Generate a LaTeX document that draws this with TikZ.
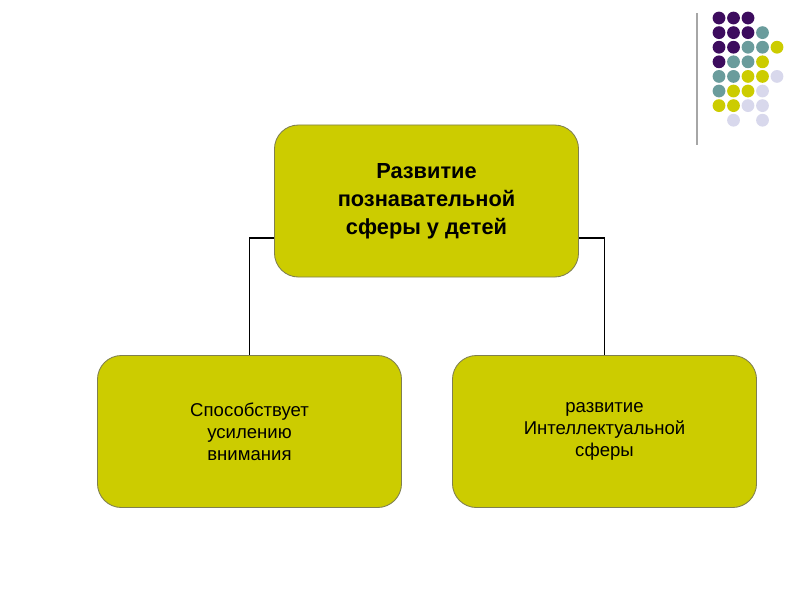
\documentclass[tikz,border=0pt]{standalone}
\usepackage{fontspec}
\setmainfont{Liberation Sans}
\usepackage{tikz}
\usetikzlibrary{positioning}

\definecolor{boxfill}{HTML}{CCCC00}
\definecolor{boxedge}{HTML}{7F7F50}
\definecolor{dotpurple}{HTML}{3D0C5E}
\definecolor{dotteal}{HTML}{6A9C9C}
\definecolor{dotyellow}{HTML}{CCCC00}
\definecolor{dotlilac}{HTML}{D8D8EC}

\begin{document}
\begin{tikzpicture}[x=0.025cm, y=-0.025cm,
        sferabox/.style={draw=boxedge, line width=0.6pt, fill=boxfill, rounded corners=0.6cm,
            minimum width=7.6cm, minimum height=3.8cm, align=center, inner sep=0pt},
        topfont/.style={font=\bfseries\fontsize{15.5}{20}\selectfont},
        subfont/.style={font=\fontsize{13.2}{15.8}\selectfont},
        link/.style={draw=black, line width=1.2pt}]
            \useasboundingbox (0,0) rectangle (800,600);
            % dots in the corner
            \draw[gray!70, line width=1.2pt] (697,13) -- (697,145);
            \foreach \c/\r in {0/0,1/0,2/0,0/1,1/1,2/1,0/2,1/2,0/3}
                \fill[dotpurple] ({719+14.5*\c},{18+14.6*\r}) circle[radius=0.16cm];
            \foreach \c/\r in {3/1,2/2,3/2,1/3,2/3,0/4,1/4,0/5}
                \fill[dotteal] ({719+14.5*\c},{18+14.6*\r}) circle[radius=0.16cm];
            \foreach \c/\r in {4/2,3/3,2/4,3/4,1/5,2/5,0/6,1/6}
                \fill[dotyellow] ({719+14.5*\c},{18+14.6*\r}) circle[radius=0.16cm];
            \foreach \c/\r in {4/4,3/5,2/6,3/6,1/7,3/7}
                \fill[dotlilac] ({719+14.5*\c},{18+14.6*\r}) circle[radius=0.16cm];
            % boxes
            \node[sferabox, topfont] (razvitie) at (426.5,201)
                {Развитие\\ познавательной\\ сферы у детей};
            \node[sferabox, subfont] (vnimanie) at (249.5,431.5)
                {Способствует\\ усилению\\ внимания};
            \node[sferabox, subfont] (intellekt) at (604.5,431.5)
                {развитие\\ Интеллектуальной\\ сферы};
            % connectors
            \draw[link] ([yshift=-0.925cm]razvitie.west) -| (vnimanie.north);
            \draw[link] ([yshift=-0.925cm]razvitie.east) -| (intellekt.north);
        \end{tikzpicture}
\end{document}
